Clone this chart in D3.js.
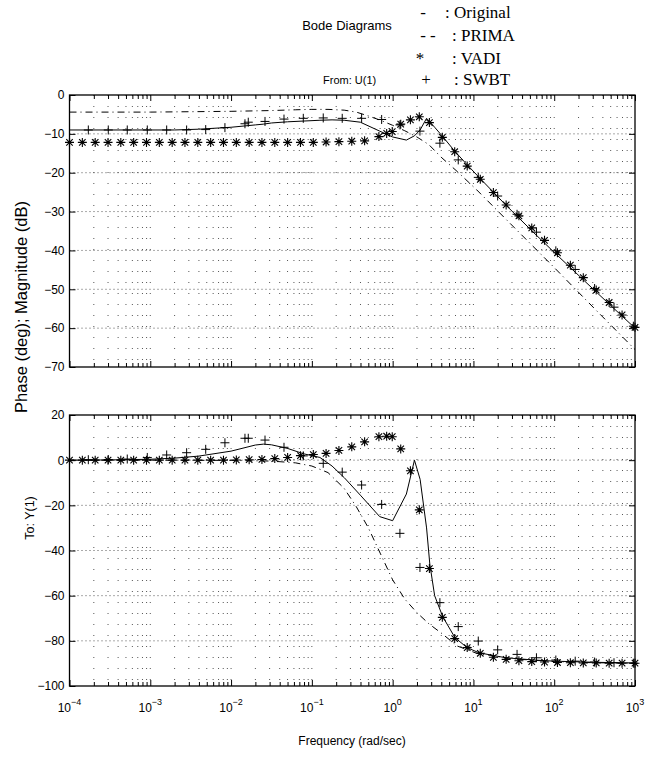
<!DOCTYPE html>
<html>
<head>
<meta charset="utf-8">
<script src="https://cdn.jsdelivr.net/npm/d3@7"></script>
<style>
body { margin: 0; background: #fff; }
svg { display: block; }
.tick text { font-family: "Liberation Sans", Arial, sans-serif; font-size: 12px; fill: #000; }
.sans { font-family: "Liberation Sans", Arial, sans-serif; fill: #000; }
.serif { font-family: "Liberation Serif", "Times New Roman", serif; fill: #000; }
</style>
</head>
<body>
<div id="vis"></div>
<script>
// tick labels
var xExps = [-4, -3, -2, -1, 0, 1, 2, 3];
var magTicks = [0, -10, -20, -30, -40, -50, -60, -70];
var phaseTicks = [20, 0, -20, -40, -60, -80, -100];

// Original (solid) : log10 frequency, magnitude (dB), phase (deg)
var origLogF = [-4, -3.5, -3, -2.7, -2.4, -2, -1.7, -1.6, -1.5, -1.3, -1.1, -0.9, -0.75, -0.6, -0.4, -0.16, 0, 0.17, 0.27, 0.34, 0.42, 0.46, 0.52, 0.62, 0.77, 0.92, 1.07, 1.4, 1.75, 2, 2.5, 3];
var origMag = [-9.0, -9.0, -9.0, -9.0, -8.8, -8.3, -7.7, -7.5, -7.2, -6.9, -6.7, -6.5, -6.4, -6.5, -7.0, -9.3, -10.8, -11.6, -10.5, -9.0, -6.0, -6.9, -8.3, -10.7, -14.5, -17.9, -21.2, -28.3, -35.5, -40.5, -50.3, -60.0];
var origPhase = [0, 0.1, 0.4, 0.9, 1.8, 4.0, 6.7, 7.1, 6.8, 5.2, 2.8, 1.2, -2.6, -7.7, -15.5, -25.0, -26.8, -15.0, 0, -8.5, -30.0, -46.0, -60.0, -69.3, -78.5, -83.0, -85.3, -87.5, -88.5, -89.0, -89.5, -89.8];

// PRIMA (dashed)
var primaLogF = [-4, -3, -2, -1.5, -1.2, -1, -0.8, -0.6, -0.45, -0.3, -0.15, 0, 0.15, 0.3, 0.45, 0.6, 0.8, 1.04, 1.5, 2, 2.5, 3];
var primaMag = [-4.4, -4.4, -4.2, -4.0, -3.8, -3.7, -3.7, -3.9, -4.4, -5.4, -6.5, -7.8, -9.2, -10.8, -12.8, -16.0, -19.7, -24.4, -34.0, -44.4, -55.0, -65.5];
var primaPhase = [0, 0, -0.1, -0.4, -1.2, -2.6, -5.5, -12.5, -20.6, -30.0, -41.5, -53.0, -61.5, -67.5, -72.5, -76.5, -82.3, -85.5, -88.0, -89.2, -89.7, -89.9];

// VADI (*)
var vadiLogF = [-4, -3.841, -3.682, -3.523, -3.365, -3.206, -3.047, -2.888, -2.729, -2.571, -2.412, -2.253, -2.094, -1.935, -1.776, -1.618, -1.459, -1.3, -1.141, -0.982, -0.824, -0.665, -0.506, -0.347, -0.17, -0.074, -0.005, 0.1, 0.22, 0.33, 0.455, 0.615, 0.768, 0.923, 1.085, 1.247, 1.405, 1.563, 1.722, 1.88, 2.04, 2.2, 2.36, 2.52, 2.68, 2.84, 3.0];
var vadiMag = [-12.2, -12.2, -12.2, -12.2, -12.2, -12.2, -12.2, -12.2, -12.2, -12.2, -12.2, -12.2, -12.2, -12.2, -12.2, -12.2, -12.2, -12.2, -12.2, -12.2, -12.1, -12.0, -11.9, -11.8, -10.7, -9.9, -9.4, -7.5, -6.4, -5.6, -7.1, -10.9, -14.6, -18.3, -21.7, -25.1, -28.3, -31.1, -34.2, -37.4, -40.6, -43.8, -47.0, -50.2, -53.4, -56.6, -59.8];
var vadiPhase = [0, 0, 0, 0, 0, 0, 0, 0, 0, 0, 0, 0, 0, 0.1, 0.2, 0.3, 0.7, 1.2, 2.0, 2.5, 3.0, 4.3, 5.9, 8.1, 10.4, 10.6, 10.4, 5.0, -4.7, -22.0, -48.0, -69.6, -79.0, -83.0, -85.5, -87.3, -88.2, -88.8, -89.2, -89.4, -89.6, -89.7, -89.8, -89.8, -89.9, -89.9, -89.9];

// SWBT (+)
var swbtLogF = [-3.767, -3.52, -3.285, -3.037, -2.797, -2.55, -2.314, -2.076, -1.828, -1.787, -1.58, -1.345, -1.106, -0.859, -0.624, -0.384, -0.136, 0.09, 0.338, 0.585, 0.812, 1.06, 1.3, 1.54, 1.78, 2.02, 2.26, 2.5, 2.74, 2.98];
var swbtMag = [-9.0, -9.0, -9.0, -9.0, -9.0, -9.0, -8.9, -8.4, -7.4, -7.0, -6.8, -6.2, -6.0, -5.9, -6.0, -6.0, -6.3, -7.7, -9.3, -12.4, -16.7, -21.2, -26.0, -30.7, -35.3, -40.1, -44.9, -49.8, -54.6, -59.5];
var swbtPhase = [0.2, 0.3, 0.5, 1.2, 2.3, 3.3, 4.8, 7.7, 9.7, 9.7, 8.9, 5.7, 1.9, -1.4, -5.3, -11.0, -19.6, -32.4, -47.5, -63.1, -73.7, -80.1, -84.0, -86.0, -87.5, -88.5, -89.0, -89.4, -89.7, -89.9];

var width = 662, height = 765;
var left = 69.5, right = 635;

var svg = d3.select('#vis').append('svg')
    .attr('width', width)
    .attr('height', height);

var x = d3.scaleLog().domain([1e-4, 1e3]).range([left, right]);
var yMag = d3.scaleLinear().domain([-70, 0]).range([367, 95]);
var yPh = d3.scaleLinear().domain([-100, 20]).range([686, 415]);

var decades = xExps.map(function(e) { return Math.pow(10, e); });
var minors = x.ticks().filter(function(v) {
    return decades.every(function(d) { return Math.abs(Math.log10(v) - Math.log10(d)) > 1e-6; });
});

var r = 4.5, rd = r * 0.72;
var starPath = 'M' + (-r) + ',0H' + r + 'M0,' + (-r) + 'V' + r +
    'M' + (-rd) + ',' + (-rd) + 'L' + rd + ',' + rd + 'M' + (-rd) + ',' + rd + 'L' + rd + ',' + (-rd);
var plusPath = 'M' + (-r) + ',0H' + r + 'M0,' + (-r) + 'V' + r;

function drawPanel(y, yTicks, series, labelX) {
    var top = y.range()[1], bottom = y.range()[0];
    var g = svg.append('g');

    // grid
    g.append('g').selectAll('line')
        .data(x.ticks().filter(function(v) { return v > 1e-4 * 1.01 && v < 1e3 * 0.99; }))
        .join('line')
        .attr('x1', function(d) { return x(d); })
        .attr('x2', function(d) { return x(d); })
        .attr('y1', top).attr('y2', bottom)
        .attr('stroke', '#555').attr('stroke-width', 1)
        .attr('stroke-dasharray', '1,10');
    g.append('g').selectAll('line')
        .data(yTicks.filter(function(v) { return v !== y.domain()[0] && v !== y.domain()[1]; }))
        .join('line')
        .attr('x1', left).attr('x2', right)
        .attr('y1', function(d) { return y(d); })
        .attr('y2', function(d) { return y(d); })
        .attr('stroke', '#555').attr('stroke-width', 1)
        .attr('stroke-dasharray', '1,3');

    // ticks (inside)
    function clean(sel) { sel.select('.domain').remove(); sel.selectAll('line').attr('stroke', '#000'); }
    g.append('g').attr('transform', 'translate(0,' + bottom + ')')
        .call(d3.axisBottom(x).tickValues(decades).tickSize(-6).tickFormat('')).call(clean);
    g.append('g').attr('transform', 'translate(0,' + bottom + ')')
        .call(d3.axisBottom(x).tickValues(minors).tickSize(-4).tickFormat('')).call(clean);
    g.append('g').attr('transform', 'translate(0,' + top + ')')
        .call(d3.axisTop(x).tickValues(decades).tickSize(-6).tickFormat('')).call(clean);
    g.append('g').attr('transform', 'translate(0,' + top + ')')
        .call(d3.axisTop(x).tickValues(minors).tickSize(-4).tickFormat('')).call(clean);
    g.append('g').attr('transform', 'translate(' + left + ',0)')
        .call(d3.axisLeft(y).tickValues(yTicks).tickSize(-6).tickPadding(5).tickFormat(d3.format('d'))).call(clean);
    g.append('g').attr('transform', 'translate(' + right + ',0)')
        .call(d3.axisRight(y).tickValues(yTicks).tickSize(-6).tickFormat('')).call(clean);

    // box
    g.append('rect')
        .attr('x', left).attr('y', top)
        .attr('width', right - left).attr('height', bottom - top)
        .attr('fill', 'none').attr('stroke', '#000').attr('stroke-width', 1.3);

    // curves
    var line = d3.line()
        .x(function(d) { return x(Math.pow(10, d[0])); })
        .y(function(d) { return y(d[1]); });
    g.append('path').datum(d3.zip(origLogF, series.orig))
        .attr('d', line).attr('fill', 'none').attr('stroke', '#000').attr('stroke-width', 1);
    g.append('path').datum(d3.zip(primaLogF, series.prima))
        .attr('d', line).attr('fill', 'none').attr('stroke', '#000').attr('stroke-width', 1)
        .attr('stroke-dasharray', '7,4,1,4');

    g.append('g').selectAll('path')
        .data(d3.zip(vadiLogF, series.vadi))
        .join('path')
        .attr('transform', function(d) { return 'translate(' + x(Math.pow(10, d[0])) + ',' + y(d[1]) + ')'; })
        .attr('d', starPath).attr('stroke', '#000').attr('stroke-width', 1.1);
    g.append('g').selectAll('path')
        .data(d3.zip(swbtLogF, series.swbt))
        .join('path')
        .attr('transform', function(d) { return 'translate(' + x(Math.pow(10, d[0])) + ',' + y(d[1]) + ')'; })
        .attr('d', plusPath).attr('stroke', '#000').attr('stroke-width', 1);

    if (labelX) {
        var lab = g.append('g').selectAll('text')
            .data(xExps)
            .join('text')
            .attr('class', 'sans')
            .attr('x', function(d) { return x(Math.pow(10, d)); })
            .attr('y', 712)
            .attr('text-anchor', 'middle')
            .style('font-size', '12px');
        lab.append('tspan').text('10');
        lab.append('tspan').attr('dy', -7).style('font-size', '9px')
            .text(function(d) { return d3.format('d')(d); });
    }
}

drawPanel(yMag, magTicks, { orig: origMag, prima: primaMag, vadi: vadiMag, swbt: swbtMag }, false);
drawPanel(yPh, phaseTicks, { orig: origPhase, prima: primaPhase, vadi: vadiPhase, swbt: swbtPhase }, true);

// titles and labels
svg.append('text').attr('class', 'sans').attr('x', 347).attr('y', 30)
    .attr('text-anchor', 'middle').style('font-size', '13px').text('Bode Diagrams');
svg.append('text').attr('class', 'sans').attr('x', 323).attr('y', 84)
    .style('font-size', '11px').text('From: U(1)');
svg.append('text').attr('class', 'sans')
    .attr('transform', 'translate(27,307) rotate(-90)')
    .attr('text-anchor', 'middle').style('font-size', '16.5px').text('Phase (deg); Magnitude (dB)');
svg.append('text').attr('class', 'sans')
    .attr('transform', 'translate(34,518) rotate(-90)')
    .attr('text-anchor', 'middle').style('font-size', '12.5px').text('To: Y(1)');
svg.append('text').attr('class', 'sans').attr('x', 352).attr('y', 745)
    .attr('text-anchor', 'middle').style('font-size', '12px').text('Frequency (rad/sec)');

// legend (text)
var legSym = ['-', '- -', '*', '+'];
var legName = [': Original', ': PRIMA', ': VADI', ': SWBT'];
var legSymX = [423, 428, 420, 426];
var legNameX = [445, 452, 452, 454];
var legY = [18, 41, 64, 85];
svg.append('g').selectAll('text')
    .data(legSym).join('text')
    .attr('class', 'serif')
    .attr('x', function(d, i) { return legSymX[i]; })
    .attr('y', function(d, i) { return legY[i]; })
    .attr('text-anchor', 'middle')
    .style('font-size', '17px')
    .text(function(d) { return d; });
svg.append('g').selectAll('text')
    .data(legName).join('text')
    .attr('class', 'serif')
    .attr('x', function(d, i) { return legNameX[i]; })
    .attr('y', function(d, i) { return legY[i]; })
    .style('font-size', '17px')
    .text(function(d) { return d; });
</script>
</body>
</html>
